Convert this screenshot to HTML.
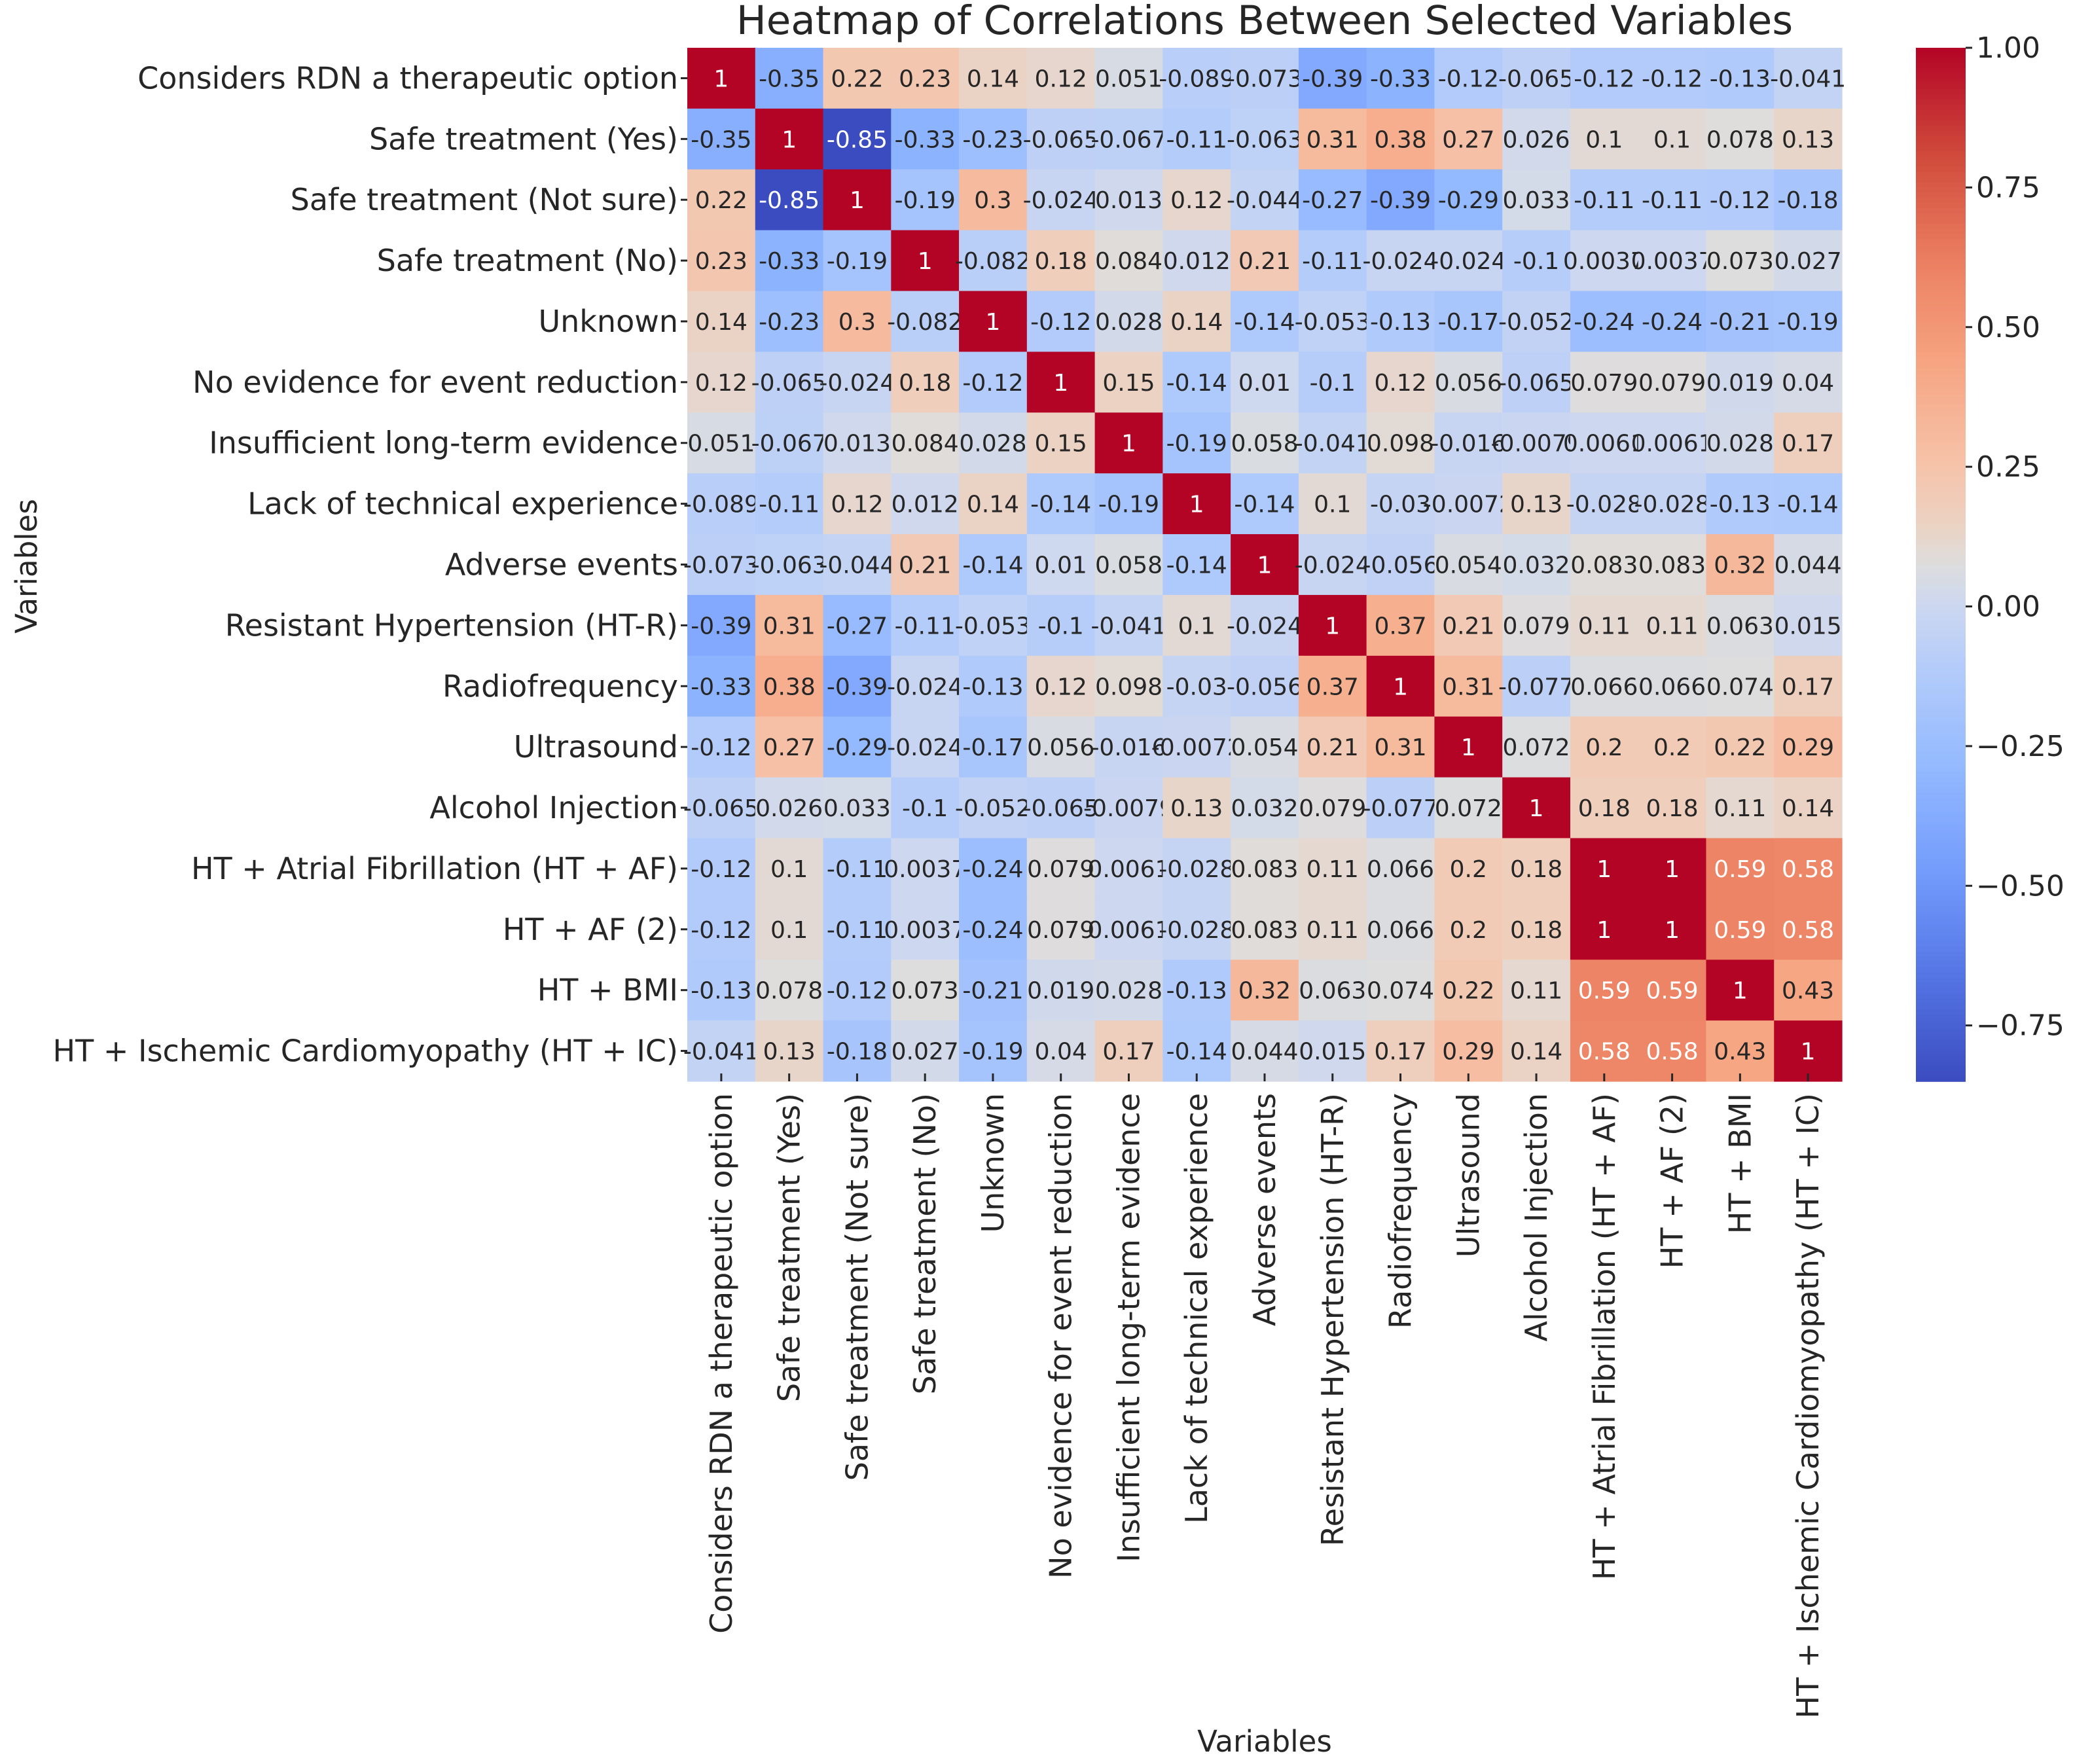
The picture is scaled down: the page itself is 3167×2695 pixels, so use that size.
<!DOCTYPE html>
<html><head><meta charset="utf-8"><style>
html,body{margin:0;padding:0;background:#fff;}
svg{display:block;font-family:"DejaVu Sans","Liberation Sans",sans-serif;}
</style></head><body>
<svg id="chart" width="3167" height="2695" viewBox="0 0 3167 2695">
<text x="1932" y="52" font-size="61" fill="#262626" text-anchor="middle">Heatmap of Correlations Between Selected Variables</text>
<g id="cells"></g>
<g id="rowlabels"></g>
<g id="collabels"></g>
<g id="cbar"></g>
<text x="1932" y="2676" font-size="45" fill="#262626" text-anchor="middle">Variables</text>
<text transform="translate(56,865) rotate(-90)" font-size="45" fill="#262626" text-anchor="middle">Variables</text>
</svg>
<script>
const labels = ["Considers RDN a therapeutic option","Safe treatment (Yes)","Safe treatment (Not sure)","Safe treatment (No)","Unknown","No evidence for event reduction","Insufficient long-term evidence","Lack of technical experience","Adverse events","Resistant Hypertension (HT-R)","Radiofrequency","Ultrasound","Alcohol Injection","HT + Atrial Fibrillation (HT + AF)","HT + AF (2)","HT + BMI","HT + Ischemic Cardiomyopathy (HT + IC)"];
const row0 = [1,-0.35,0.22,0.23,0.14,0.12,0.051,-0.089,-0.073,-0.39,-0.33,-0.12,-0.065,-0.12,-0.12,-0.13,-0.041];
const row1 = [-0.35,1,-0.85,-0.33,-0.23,-0.065,-0.067,-0.11,-0.063,0.31,0.38,0.27,0.026,0.1,0.1,0.078,0.13];
const row2 = [0.22,-0.85,1,-0.19,0.3,-0.024,0.013,0.12,-0.044,-0.27,-0.39,-0.29,0.033,-0.11,-0.11,-0.12,-0.18];
const row3 = [0.23,-0.33,-0.19,1,-0.082,0.18,0.084,0.012,0.21,-0.11,-0.024,-0.024,-0.1,0.0037,0.0037,0.073,0.027];
const row4 = [0.14,-0.23,0.3,-0.082,1,-0.12,0.028,0.14,-0.14,-0.053,-0.13,-0.17,-0.052,-0.24,-0.24,-0.21,-0.19];
const row5 = [0.12,-0.065,-0.024,0.18,-0.12,1,0.15,-0.14,0.01,-0.1,0.12,0.056,-0.065,0.079,0.079,0.019,0.04];
const row6 = [0.051,-0.067,0.013,0.084,0.028,0.15,1,-0.19,0.058,-0.041,0.098,-0.016,-0.0079,0.0061,0.0061,0.028,0.17];
const row7 = [-0.089,-0.11,0.12,0.012,0.14,-0.14,-0.19,1,-0.14,0.1,-0.03,-0.0072,0.13,-0.028,-0.028,-0.13,-0.14];
const row8 = [-0.073,-0.063,-0.044,0.21,-0.14,0.01,0.058,-0.14,1,-0.024,-0.056,0.054,0.032,0.083,0.083,0.32,0.044];
const row9 = [-0.39,0.31,-0.27,-0.11,-0.053,-0.1,-0.041,0.1,-0.024,1,0.37,0.21,0.079,0.11,0.11,0.063,0.015];
const row10 = [-0.33,0.38,-0.39,-0.024,-0.13,0.12,0.098,-0.03,-0.056,0.37,1,0.31,-0.077,0.066,0.066,0.074,0.17];
const row11 = [-0.12,0.27,-0.29,-0.024,-0.17,0.056,-0.016,-0.0072,0.054,0.21,0.31,1,0.072,0.2,0.2,0.22,0.29];
const row12 = [-0.065,0.026,0.033,-0.1,-0.052,-0.065,-0.0079,0.13,0.032,0.079,-0.077,0.072,1,0.18,0.18,0.11,0.14];
const row13 = [-0.12,0.1,-0.11,0.0037,-0.24,0.079,0.0061,-0.028,0.083,0.11,0.066,0.2,0.18,1,1,0.59,0.58];
const row14 = [-0.12,0.1,-0.11,0.0037,-0.24,0.079,0.0061,-0.028,0.083,0.11,0.066,0.2,0.18,1,1,0.59,0.58];
const row15 = [-0.13,0.078,-0.12,0.073,-0.21,0.019,0.028,-0.13,0.32,0.063,0.074,0.22,0.11,0.59,0.59,1,0.43];
const row16 = [-0.041,0.13,-0.18,0.027,-0.19,0.04,0.17,-0.14,0.044,0.015,0.17,0.29,0.14,0.58,0.58,0.43,1];
const matrix = [row0,row1,row2,row3,row4,row5,row6,row7,row8,row9,row10,row11,row12,row13,row14,row15,row16];
const cbarTicks = [1.0,0.75,0.5,0.25,0,-0.25,-0.5,-0.75];
const vmin = -0.85, vmax = 1.0;

const NS = "http://www.w3.org/2000/svg";
const X0 = 1050, X1 = 2814, Y0 = 73, Y1 = 1652;
const n = labels.length;
const cw = (X1 - X0) / n, ch = (Y1 - Y0) / n;
function xPos(i){ return X0 + i * cw; }
function yPos(i){ return Y0 + i * ch; }
const CB_X = 2927, CB_W = 76;
function cbY(v){ return Y0 + (vmax - v) / (vmax - vmin) * (Y1 - Y0); }

const stops = [[0,59,76,192],[0.1,84,116,228],[0.2,114,155,252],[0.3,146,184,255],[0.4,180,204,250],[0.46,204,215,240],[0.5,221,221,221],[0.54,236,210,194],[0.6,246,194,168],[0.7,246,163,128],[0.8,234,124,94],[0.9,207,72,58],[1,180,4,38]];
function cmap(v){
  let t = Math.max(0, Math.min(1, (v - vmin) / (vmax - vmin)));
  for (let k = 0; k < stops.length - 1; k++){
    const a = stops[k], b = stops[k+1];
    if (t <= b[0]){
      const f = (t - a[0]) / (b[0] - a[0]);
      return [0,1,2].map(j => Math.round(a[j+1] + (b[j+1] - a[j+1]) * f));
    }
  }
  return [180,4,38];
}
function textColor(v){ return (v >= 0.5 || v <= -0.6) ? '#ffffff' : '#262626'; }
function mk(tag, attrs, parent){
  const e = document.createElementNS(NS, tag);
  for (const k in attrs) e.setAttribute(k, attrs[k]);
  parent.appendChild(e);
  return e;
}
const cells = document.getElementById('cells');
for (let r = 0; r < n; r++){
  for (let c = 0; c < n; c++){
    const v = matrix[r][c];
    const col = cmap(v);
    const rect = mk('rect', {x: xPos(c), y: yPos(r), width: cw + 0.6, height: ch + 0.6, fill: `rgb(${col})`}, cells);
    
    
    const t = mk('text', {x: xPos(c) + cw/2, y: yPos(r) + ch/2 + 13, 'font-size': 36, 'text-anchor': 'middle', fill: textColor(v)}, cells);
    t.textContent = String(v);
    
    
  }
}
const rl = document.getElementById('rowlabels');
const cl = document.getElementById('collabels');
for (let i = 0; i < n; i++){
  const cy = yPos(i) + ch/2;
  const tk = mk('line', {x1: X0 - 10, x2: X0, y1: cy, y2: cy, stroke: '#262626', 'stroke-width': 3}, rl);
  
  
  const t = mk('text', {x: X0 - 14, y: cy + 16, 'font-size': 46, 'text-anchor': 'end', fill: '#262626'}, rl);
  t.textContent = labels[i];
  
  
  const cx = xPos(i) + cw/2;
  const tk2 = mk('line', {x1: cx, x2: cx, y1: Y1 - 12, y2: Y1, stroke: '#262626', 'stroke-width': 3}, cl);
  
  
  const t2 = mk('text', {transform: `translate(${cx + 16},${Y1 + 18}) rotate(-90)`, 'font-size': 46, 'text-anchor': 'end', fill: '#262626'}, cl);
  t2.textContent = labels[i];
  
  
}
const cb = document.getElementById('cbar');
const steps = 200;
for (let k = 0; k < steps; k++){
  const v1 = vmax - (vmax - vmin) * k / steps;
  const v2 = vmax - (vmax - vmin) * (k + 1) / steps;
  const r = mk('rect', {x: CB_X, y: cbY(v1), width: CB_W, height: cbY(v2) - cbY(v1) + 0.8, fill: `rgb(${cmap((v1+v2)/2)})`}, cb);
  
  
}
cbarTicks.forEach(v => {
  const y = cbY(v);
  const l = mk('line', {x1: CB_X + CB_W, x2: CB_X + CB_W + 10, y1: y, y2: y, stroke: '#262626', 'stroke-width': 3}, cb);
  
  
  const t = mk('text', {x: CB_X + CB_W + 16, y: y + 15, 'font-size': 44, fill: '#262626'}, cb);
  t.textContent = (v < 0 ? '\u2212' : '') + Math.abs(v).toFixed(2);
  
  
});
</script>
</body></html>
